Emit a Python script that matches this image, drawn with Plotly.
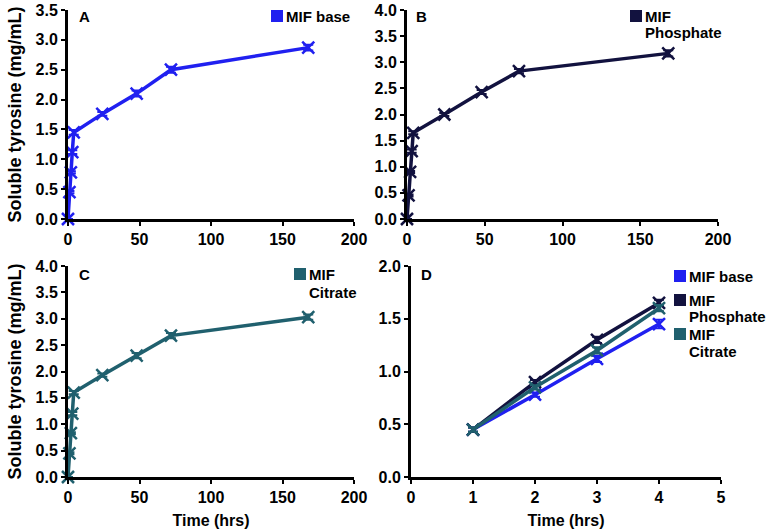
import plotly.graph_objects as go

time_full = [0, 1, 2, 3, 4, 24, 48, 72, 168]
base_vals = [0, 0.45, 0.78, 1.12, 1.45, 1.76, 2.10, 2.50, 2.87]
phos_vals = [0, 0.45, 0.90, 1.30, 1.65, 2.00, 2.43, 2.83, 3.17]
citr_vals = [0, 0.45, 0.83, 1.20, 1.60, 1.93, 2.30, 2.68, 3.03]
base_err = [0, 0.02, 0.02, 0.03, 0.04, 0.03, 0.05, 0.05, 0.05]
phos_err = [0, 0.02, 0.02, 0.03, 0.03, 0.03, 0.04, 0.04, 0.06]
citr_err = [0, 0.02, 0.02, 0.03, 0.03, 0.03, 0.05, 0.05, 0.05]

time_early = [1, 2, 3, 4]
base_early = [0.45, 0.78, 1.12, 1.45]
phos_early = [0.45, 0.90, 1.30, 1.65]
citr_early = [0.45, 0.85, 1.20, 1.60]
base_early_err = [0.02, 0.02, 0.03, 0.04]
phos_early_err = [0.02, 0.02, 0.03, 0.03]
citr_early_err = [0.02, 0.02, 0.03, 0.03]

C_BASE = "#2020F0"
C_PHOS = "#12123F"
C_CITR = "#20606E"

FONT = "Liberation Sans"

fig = go.Figure()

def line(x, y, err, color, xa, ya):
    fig.add_trace(go.Scatter(
        x=x, y=y, mode="lines+markers", xaxis=xa, yaxis=ya,
        line=dict(color=color, width=3.5),
        marker=dict(symbol="x-thin", size=12, line=dict(color=color, width=2.5), color=color),
        error_y=dict(type="data", array=err, color=color, thickness=2, width=5),
        showlegend=False, cliponaxis=False))

line(time_full, base_vals, base_err, C_BASE, "x", "y")
line(time_full, phos_vals, phos_err, C_PHOS, "x2", "y2")
line(time_full, citr_vals, citr_err, C_CITR, "x3", "y3")
line(time_early, base_early, base_early_err, C_BASE, "x4", "y4")
line(time_early, phos_early, phos_early_err, C_PHOS, "x4", "y4")
line(time_early, citr_early, citr_early_err, C_CITR, "x4", "y4")

W, H = 767, 532
def px(v): return v / W
def py(v): return 1 - v / H

tickfont = dict(family=FONT, size=16, color="black", weight="bold")
ytitlefont = dict(family=FONT, size=18, color="black", weight="bold")
xtitlefont = dict(family=FONT, size=16, color="black", weight="bold")

axcommon = dict(showline=True, linecolor="black", linewidth=3, ticks="outside",
                tickwidth=2, ticklen=4, tickcolor="black", showgrid=False,
                zeroline=False, tickfont=tickfont, automargin=False,
                ticklabeloverflow="allow")

xA = [px(68), px(354)]
xB = [px(407), px(718)]
xD = [px(411), px(721)]
yTop = [py(219), py(10)]
yBot = [py(477), py(266)]

fig.update_layout(
    width=W, height=H, margin=dict(l=0, r=0, t=0, b=0), showlegend=False,
    paper_bgcolor="white", plot_bgcolor="white",
    xaxis=dict(domain=xA, range=[0, 200], dtick=50, anchor="y", **axcommon),
    yaxis=dict(domain=yTop, range=[0, 3.5], dtick=0.5, tickformat=".1f", anchor="x",
               title=dict(text="Soluble tyrosine (mg/mL)", font=ytitlefont, standoff=10), **axcommon),
    xaxis2=dict(domain=xB, range=[0, 200], dtick=50, anchor="y2", **axcommon),
    yaxis2=dict(domain=yTop, range=[0, 4.0], dtick=0.5, tickformat=".1f", anchor="x2", **axcommon),
    xaxis3=dict(domain=xA, range=[0, 200], dtick=50, anchor="y3",
                title=dict(text="Time (hrs)", font=xtitlefont, standoff=10), **axcommon),
    yaxis3=dict(domain=yBot, range=[0, 4.0], dtick=0.5, tickformat=".1f", anchor="x3",
                title=dict(text="Soluble tyrosine (mg/mL)", font=ytitlefont, standoff=10), **axcommon),
    xaxis4=dict(domain=xD, range=[0, 5], dtick=1, anchor="y4",
                title=dict(text="Time (hrs)", font=xtitlefont, standoff=10), **axcommon),
    yaxis4=dict(domain=yBot, range=[0, 2.0], dtick=0.5, tickformat=".1f", anchor="x4", **axcommon),
)

def ann(text, x, y, size=15, color="black", anchor="left"):
    fig.add_annotation(text=text, x=px(x), y=py(y), xref="paper", yref="paper",
                       xanchor=anchor, yanchor="middle", showarrow=False, align="left",
                       font=dict(family=FONT, size=size, color=color, weight="bold"))

def square(color, x, y):
    fig.add_annotation(text=" ", x=px(x), y=py(y), xref="paper", yref="paper",
                       xanchor="center", yanchor="middle", showarrow=False,
                       width=8, height=8, bgcolor=color, borderpad=2, borderwidth=0,
                       font=dict(size=6))

for label, xx, yy in [("A", 77, 17), ("B", 414, 17), ("C", 77, 274), ("D", 419, 274)]:
    ann(label, xx, yy, size=15)

# legend entries: (colour, square x, square y, text x, [(line text, line y), ...])
legend_items = [
    (C_BASE, 277, 16, 284, [("MIF base", 16)]),
    (C_PHOS, 636, 16, 643, [("MIF", 16), ("Phosphate", 33)]),
    (C_CITR, 300, 274, 307, [("MIF", 274), ("Citrate", 292)]),
    (C_BASE, 680, 276, 687, [("MIF base", 276)]),
    (C_PHOS, 680, 300, 687, [("MIF", 300), ("Phosphate", 316)]),
    (C_CITR, 680, 334, 687, [("MIF", 334), ("Citrate", 351)]),
]
for col, sx, sy, tx, lines in legend_items:
    square(col, sx, sy)
    for txt, ty in lines:
        ann(txt, tx, ty)

fig.write_html("out.html", config={"displayModeBar": False},
               post_script="document.body.style.margin='0px';")
